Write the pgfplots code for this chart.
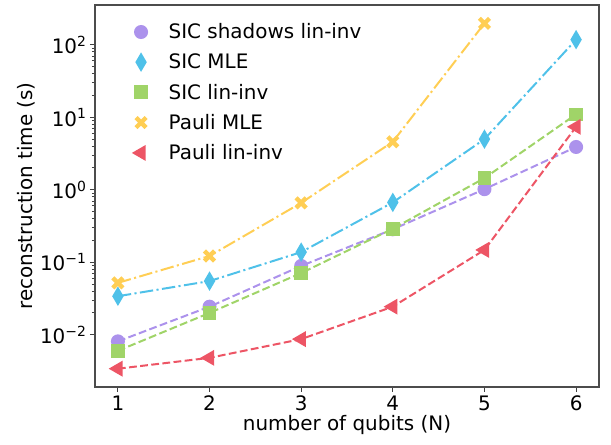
\documentclass[border=0pt]{standalone}
\usepackage{fontspec}
\setmainfont{DejaVu Sans}
\usepackage{pgfplots}
\pgfplotsset{compat=1.18}
\usetikzlibrary{calc}

\definecolor{lavender}{HTML}{AC92EC}
\definecolor{aqua}{HTML}{4FC1E9}
\definecolor{grass}{HTML}{A0D468}
\definecolor{sunflower}{HTML}{FFCE54}
\definecolor{grapefruit}{HTML}{ED5565}

% filled "X" marker
\pgfdeclareplotmark{fatx}{%
  \pgfsetlinewidth{0.62\pgfplotmarksize}\pgfsetbuttcap
  \pgfpathmoveto{\pgfqpoint{-0.72\pgfplotmarksize}{-0.72\pgfplotmarksize}}
  \pgfpathlineto{\pgfqpoint{0.72\pgfplotmarksize}{0.72\pgfplotmarksize}}
  \pgfpathmoveto{\pgfqpoint{-0.72\pgfplotmarksize}{0.72\pgfplotmarksize}}
  \pgfpathlineto{\pgfqpoint{0.72\pgfplotmarksize}{-0.72\pgfplotmarksize}}
  \pgfusepathqstroke}

\begin{document}
\begin{tikzpicture}
\begin{axis}[
    scale only axis,
    width=504bp, height=382bp,
    ymode=log,
    xmin=0.75, xmax=6.25,
    ymin=0.0019, ymax=355,
    xtick={1,2,3,4,5,6},
    xticklabels={1,2,3,4,5,6},
    ytick={0.01,0.1,1,10,100},
    yticklabels={10\textsuperscript{−2},10\textsuperscript{−1},10\textsuperscript{0},10\textsuperscript{1},10\textsuperscript{2}},
    tick align=outside,
    xtick pos=bottom, ytick pos=left,
    major tick length=5bp, minor tick length=3bp,
    every tick/.style={black!75, line width=1bp},
    axis line style={black!70, line width=1.1bp},
    tick label style={font=\fontsize{20}{24}\selectfont},
    label style={font=\fontsize{20}{24}\selectfont},
    xlabel={number of qubits (N)},
    ylabel={reconstruction time (s)},
    xlabel style={yshift=2bp},
    ylabel style={yshift=-2bp},
    legend cell align=left,
    legend style={draw=none, fill=none, at={(0.069,0.962)}, anchor=north west,
      font=\fontsize{20}{24}\selectfont, row sep=9.7bp},
    legend image code/.code={\draw[#1] plot coordinates {(0.25cm,0cm)}; \path (0cm,0cm) (1.12cm,0cm);},
    every axis plot/.append style={line width=2bp},
]
\addplot[lavender, dash pattern=on 7.8bp off 3.4bp, mark=*, mark size=6bp, mark options={solid}]
  coordinates {(1,0.0081) (2,0.0244) (3,0.089) (4,0.285) (5,1.02) (6,3.9)};
\addlegendentry{SIC shadows lin-inv}
\addplot[aqua, dash pattern=on 13.4bp off 3.4bp on 2.1bp off 3.4bp, mark=diamond*, mark size=7.8bp, mark options={solid, xscale=0.78}]
  coordinates {(1,0.034) (2,0.055) (3,0.138) (4,0.67) (5,5.0) (6,118)};
\addlegendentry{SIC MLE}
\addplot[grass, dash pattern=on 7.8bp off 3.4bp, mark=square*, mark size=5.8bp, mark options={solid}]
  coordinates {(1,0.0060) (2,0.020) (3,0.071) (4,0.29) (5,1.45) (6,11.0)};
\addlegendentry{SIC lin-inv}
\addplot[sunflower, dash pattern=on 13.4bp off 3.4bp on 2.1bp off 3.4bp, mark=fatx, mark size=7bp, mark options={solid}]
  coordinates {(1,0.052) (2,0.122) (3,0.66) (4,4.6) (5,198)};
\addlegendentry{Pauli MLE}
\addplot[grapefruit, dash pattern=on 7.8bp off 3.4bp, mark=triangle*, mark size=7.2bp, mark options={solid, rotate=90}]
  coordinates {(1,0.0034) (2,0.0048) (3,0.0087) (4,0.0244) (5,0.148) (6,7.4)};
\addlegendentry{Pauli lin-inv}
\end{axis}
\pgfresetboundingbox
\path ($(current axis.south west)+(-95bp,-58bp)$) rectangle ($(current axis.north east)+(12bp,5bp)$);
\end{tikzpicture}
\end{document}
